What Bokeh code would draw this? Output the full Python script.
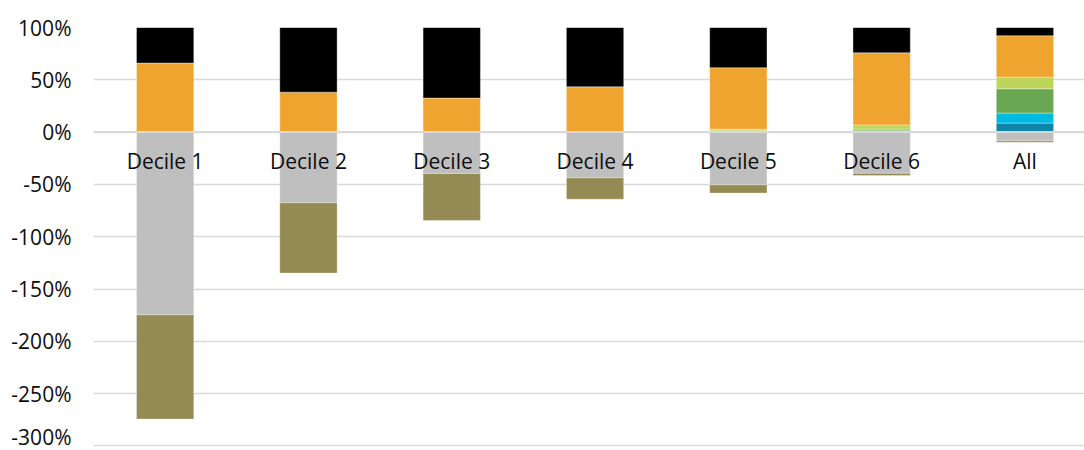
from bokeh.plotting import figure
from bokeh.models import Range1d, FixedTicker, PrintfTickFormatter, ColumnDataSource, Span
from bokeh.core.properties import value
from bokeh.embed import file_html
from bokeh.resources import INLINE

categories = ["Decile 1", "Decile 2", "Decile 3", "Decile 4", "Decile 5", "Decile 6", "All"]

# positive components (% share), bottom to top
dark_blue   = [0.0, 0.0, 0.0, 0.0, 0.3, 0.6, 8.6]
cyan        = [0.0, 0.0, 0.0, 0.0, 0.4, 0.7, 9.6]
green       = [0.0, 0.0, 0.0, 0.0, 0.6, 1.5, 23.2]
light_green = [0.0, 0.0, 0.0, 0.0, 1.5, 4.1, 11.2]
orange      = [66.0, 38.2, 32.5, 43.3, 58.7, 68.9, 39.5]
black       = [34.0, 61.8, 67.5, 56.7, 38.5, 24.2, 7.9]

# negative components (% share), top to bottom
grey  = [-174.7, -67.6, -39.6, -43.7, -50.4, -39.4, -8.3]
olive = [-99.7, -67.2, -44.9, -20.4, -7.9, -2.2, -1.5]

y_ticks = [100, 50, 0, -50, -100, -150, -200, -250, -300]

pos_keys = ["dark_blue", "cyan", "green", "light_green", "orange", "black"]
pos_colors = ["#0E86AA", "#00BAE2", "#6AA753", "#BDD65A", "#F0A430", "#000000"]
neg_keys = ["grey", "olive"]
neg_colors = ["#BFBFBF", "#948A54"]

x_idx = list(range(len(categories)))
src = ColumnDataSource(dict(
    x=x_idx, label=categories,
    dark_blue=dark_blue, cyan=cyan, green=green, light_green=light_green,
    orange=orange, black=black, grey=grey, olive=olive,
    zero=[0] * len(categories),
))

W, H = 1084, 450
left, top = 93, 27
spacing_px = 143.3
px_per_pct = 1.046
frame_w = W - left
frame_h = H - top

p = figure(width=W, height=H, output_backend="svg", toolbar_location=None,
           x_axis_location=None,
           x_range=Range1d(-0.5, -0.5 + frame_w / spacing_px),
           y_range=Range1d(100 - frame_h / px_per_pct, 100),
           min_border_left=left, min_border_top=top,
           min_border_right=0, min_border_bottom=0)
p.outline_line_color = None
p.background_fill_color = "white"
p.border_fill_color = "white"

p.vbar_stack(pos_keys, x="x", width=0.4, color=pos_colors, source=src,
             line_color="white", line_alpha=0.35, line_width=1)
p.vbar_stack(neg_keys, x="x", width=0.4, color=neg_colors, source=src,
             line_color="white", line_alpha=0.35, line_width=1)

p.yaxis.ticker = FixedTicker(ticks=y_ticks)
p.yaxis.formatter = PrintfTickFormatter(format="%d%%")
p.yaxis.axis_line_color = None
p.yaxis.major_tick_line_color = None
p.yaxis.minor_tick_line_color = None
p.yaxis.major_tick_out = 0
p.yaxis.major_tick_in = 0
p.yaxis.major_label_standoff = 22
p.yaxis.major_label_text_font = "Open Sans"
p.yaxis.major_label_text_font_size = "21px"
p.yaxis.major_label_text_color = "#0d0d0d"

p.ygrid.ticker = FixedTicker(ticks=y_ticks)
p.ygrid.grid_line_color = "#D9D9D9"
p.ygrid.grid_line_width = 1.5
p.xgrid.visible = False

p.add_layout(Span(location=0, dimension="width", line_color="#D9D9D9", line_width=2))

p.text(x="x", y="zero", text="label", source=src, text_align="center",
       text_baseline="alphabetic", y_offset=29,
       text_font=value("Open Sans"), text_font_size="21px", text_color="#0d0d0d")

open("out.html", "w").write(file_html(p, INLINE))
